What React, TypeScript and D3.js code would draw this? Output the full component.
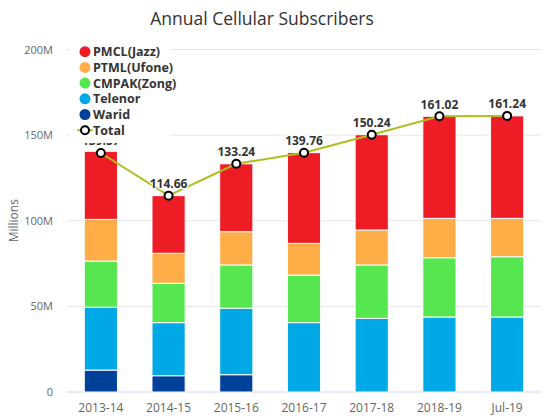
import React from "react";
import * as d3 from "d3";

const categories = ["2013-14", "2014-15", "2015-16", "2016-17", "2017-18", "2018-19", "Jul-19"];
const warid = [12.8, 9.5, 10.1, 0, 0, 0, 0];
const telenor = [36.7, 31.0, 38.8, 40.5, 43.0, 43.8, 43.8];
const zong = [27.0, 23.0, 25.3, 27.8, 31.2, 34.6, 35.2];
const ufone = [24.3, 17.5, 19.4, 18.5, 20.4, 23.0, 22.4];
const jazz = [39.77, 33.66, 39.64, 52.96, 55.64, 59.62, 59.84];
const totals = [139.57, 114.66, 133.24, 139.76, 150.24, 161.02, 161.24];
const yTicks = [0, 50, 100, 150, 200];

const seriesNames = ["Warid", "Telenor", "CMPAK(Zong)", "PTML(Ufone)", "PMCL(Jazz)"];
const seriesColors = ["#00419a", "#00a8e6", "#56e650", "#ffad47", "#ee1c25"];
const legendOrder = ["PMCL(Jazz)", "PTML(Ufone)", "CMPAK(Zong)", "Telenor", "Warid"];

export default function App() {
  const W = 544, H = 419;
  const left = 67, right = 541, top = 49.5, bottom = 392;
  const x = d3.scaleBand<string>().domain(categories).range([left, right]).paddingInner(0.51).paddingOuter(0.255);
  const y = d3.scaleLinear().domain([0, 200]).range([bottom, top]);

  const rows = categories.map((c, i) => ({
    cat: c,
    "Warid": warid[i],
    "Telenor": telenor[i],
    "CMPAK(Zong)": zong[i],
    "PTML(Ufone)": ufone[i],
    "PMCL(Jazz)": jazz[i],
  }));
  const stacked = d3.stack<any>().keys(seriesNames)(rows);
  const line = d3.line<number>().x((_, i) => (x(categories[i]) as number) + x.bandwidth() / 2).y(d => y(d));

  const font = "'Open Sans', 'DejaVu Sans', sans-serif";
  return (
    <svg width={W} height={H} style={{ position: "absolute", left: 0, top: 0 }} fontFamily={font}>
      <rect width={W} height={H} fill="#fff" />
      <text x={262} y={25} textAnchor="middle" fontSize={17.5} fill="#333">Annual Cellular Subscribers</text>
      {yTicks.map(t => (
        <g key={t}>
          <line x1={left} x2={right} y1={y(t)} y2={y(t)} stroke={t === 0 ? "#ccd6eb" : "#e6e6e6"} strokeWidth={1} />
          <text x={53} y={y(t) + 4} textAnchor="end" fontSize={11} fill="#666">{t === 0 ? "0" : `${t}M`}</text>
        </g>
      ))}
      <text transform={`translate(18,${(top + bottom) / 2}) rotate(-90)`} textAnchor="middle" fontSize={12} fill="#666">Millions</text>
      {categories.map(c => (
        <text key={c} x={(x(c) as number) + x.bandwidth() / 2} y={412} textAnchor="middle" fontSize={12} fill="#666">{c}</text>
      ))}
      {stacked.map((s, si) => (
        <g key={s.key}>
          {s.map((d, i) => d[1] - d[0] > 0 ? (
            <rect key={i} x={x(categories[i])} width={x.bandwidth()} y={y(d[1])} height={y(d[0]) - y(d[1])}
              fill={seriesColors[si]} stroke="#fff" strokeWidth={1} />
          ) : null)}
        </g>
      ))}
      <path d={line(totals) || ""} fill="none" stroke="#b0bd1e" strokeWidth={2} />
      {totals.map((v, i) => {
        const cx = (x(categories[i]) as number) + x.bandwidth() / 2;
        return (
          <g key={i}>
            <circle cx={cx} cy={y(v)} r={4} fill="#fff" stroke="#000" strokeWidth={2} />
            <text x={cx} y={y(v) - 7.5} textAnchor="middle" fontSize={12} fontWeight="bold" fill="#333"
              stroke="#fff" strokeWidth={2.5} paintOrder="stroke" strokeLinejoin="round">{v.toFixed(2)}</text>
          </g>
        );
      })}
      <rect x={70} y={40} width={100} height={103} fill="#fff" />
      {legendOrder.map((n, i) => {
        const ly = 51.7 + i * 15.7;
        const col = seriesColors[seriesNames.indexOf(n)];
        return (
          <g key={n}>
            <circle cx={85} cy={ly} r={5.5} fill={col} />
            <text x={93} y={ly + 4.5} fontSize={12.5} fontWeight="bold" fill="#333">{n}</text>
          </g>
        );
      })}
      <g>
        <line x1={77} x2={93} y1={51.7 + 5 * 15.7} y2={51.7 + 5 * 15.7} stroke="#b0bd1e" strokeWidth={2} />
        <circle cx={85} cy={51.7 + 5 * 15.7} r={4} fill="#fff" stroke="#000" strokeWidth={2} />
        <text x={93} y={51.7 + 5 * 15.7 + 4.5} fontSize={12.5} fontWeight="bold" fill="#333">Total</text>
      </g>
    </svg>
  );
}
